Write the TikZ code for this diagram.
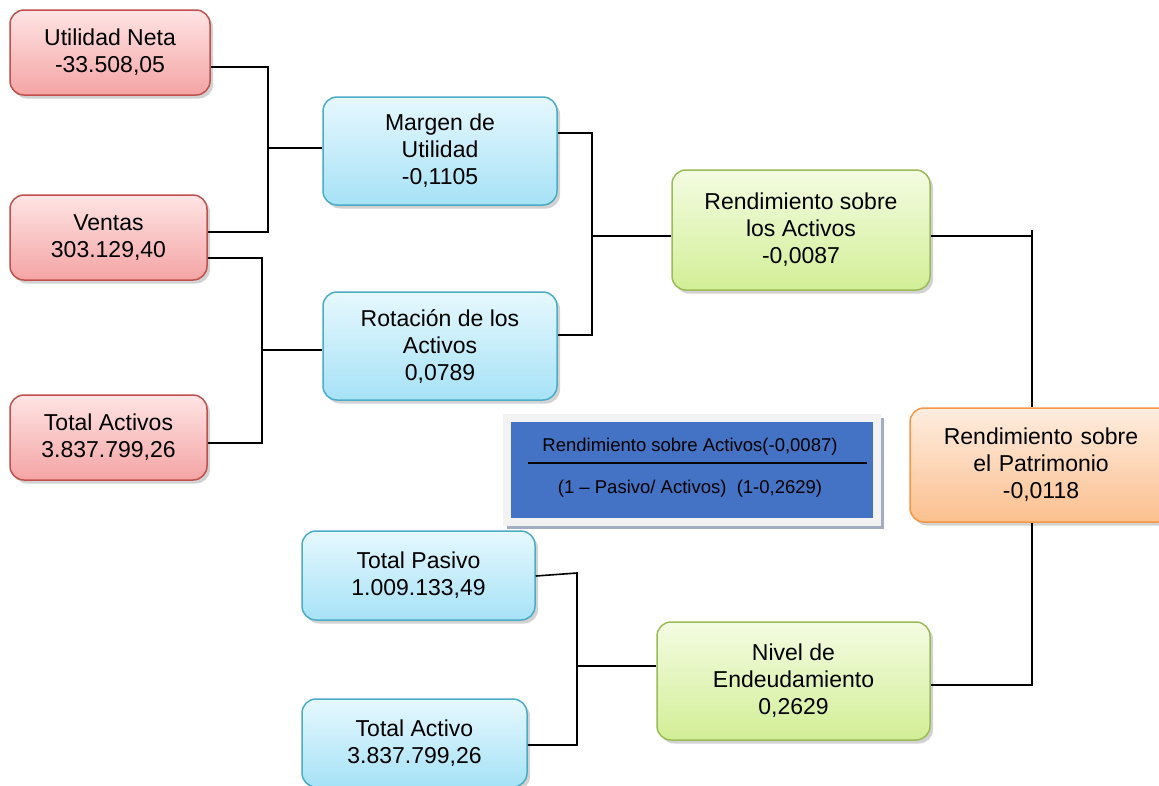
\documentclass[tikz,border=0pt]{standalone}
\usepackage{fontspec}
\setmainfont{Liberation Sans}
\usetikzlibrary{shadows}
\definecolor{redB}{HTML}{C0504D}
\definecolor{redT}{HTML}{FFE4E4}
\definecolor{redD}{HTML}{F4A4A4}
\definecolor{bluB}{HTML}{4BACC6}
\definecolor{bluT}{HTML}{E6F8FE}
\definecolor{bluD}{HTML}{A6E2F6}
\definecolor{grnB}{HTML}{9BBB59}
\definecolor{grnT}{HTML}{F4FCE2}
\definecolor{grnD}{HTML}{D2EE96}
\definecolor{orgB}{HTML}{F79646}
\definecolor{orgT}{HTML}{FEEDE0}
\definecolor{orgD}{HTML}{FBC08E}
\definecolor{fblue}{HTML}{4472C4}
\definecolor{fshad}{HTML}{A3ADC2}
\definecolor{fback}{HTML}{F2F2F2}
\tikzset{
  box/.style={rounded corners=14pt, line width=1.5pt, align=center,
    font=\fontsize{23}{27}\selectfont, inner sep=0pt,
    drop shadow={opacity=0.35, shadow xshift=3pt, shadow yshift=-3.5pt}},
  redbox/.style={box, draw=redB, top color=redT, bottom color=redD},
  blubox/.style={box, draw=bluB, top color=bluT, bottom color=bluD},
  grnbox/.style={box, draw=grnB, top color=grnT, bottom color=grnD},
  orgbox/.style={box, draw=orgB, top color=orgT, bottom color=orgD},
  conn/.style={line width=1.6pt, black},
  ftext/.style={font=\fontsize{18.5}{22}\selectfont, inner sep=0pt}
}
\begin{document}
\begin{tikzpicture}[x=1pt,y=-1pt]
\useasboundingbox (0,0) rectangle (1159,785);
\clip (0,0) rectangle (1159,785);
\fill[white] (0,0) rectangle (1159,785);

% nodes
\node[redbox, minimum width=200pt, minimum height=85pt] (un) at (110,52.5) {Utilidad Neta\\-33.508,05};
\node[redbox, minimum width=197pt, minimum height=85pt] (ve) at (108.5,237.5) {Ventas\\303.129,40};
\node[redbox, minimum width=197pt, minimum height=85pt] (ta) at (108.5,437.5) {Total Activos\\3.837.799,26};
\node[blubox, minimum width=234pt, minimum height=108pt] (mu) at (440,151) {Margen de\\Utilidad\\-0,1105};
\node[blubox, minimum width=234pt, minimum height=108pt] (ra) at (440,346) {Rotación de los\\Activos\\0,0789};
\node[grnbox, minimum width=258pt, minimum height=120pt] (rsa) at (801,230) {Rendimiento sobre\\los Activos\\-0,0087};
\node[orgbox, minimum width=262pt, minimum height=114pt, text width=250pt] (rsp) at (1041,465) {Rendimiento sobre\\el Patrimonio\\-0,0118};
\node[blubox, minimum width=233pt, minimum height=89pt] (tp) at (418.5,575.5) {Total Pasivo\\1.009.133,49};
\node[blubox, minimum width=225pt, minimum height=88pt] (tac) at (414.5,743) {Total Activo\\3.837.799,26};
\node[grnbox, minimum width=273pt, minimum height=118pt] (ne) at (793.5,681) {Nivel de\\Endeudamiento\\0,2629};

% formula box
\fill[fshad] (507,418) rectangle (884,529);
\fill[fback] (503,414) rectangle (880.5,526);
\fill[fblue] (511,422) rectangle (873,518);
\node[ftext, anchor=base] (fnum) at (690,451) {Rendimiento sobre Activos(-0,0087)};
\node[ftext, anchor=base] (fden) at (690,493) {(1 – Pasivo/ Activos)\ \ (1-0,2629)};
\coordinate (fl1) at (528,463);
\coordinate (fl2) at (867,463);
\draw[line width=2pt] (fl1) -- (fl2);

% connectors
\coordinate (j1) at (268,148);
\draw[conn] (un.east |- 0,67) -| (j1) |- (ve.east |- 0,232);
\draw[conn] (j1) -- (mu.west |- j1);
\coordinate (j2) at (262,350);
\draw[conn] (ve.east |- 0,258) -| (j2) |- (ta.east |- 0,443);
\draw[conn] (j2) -- (ra.west |- j2);
\coordinate (j3) at (592,236);
\draw[conn] (mu.east |- 0,133) -| (j3) |- (ra.east |- 0,335);
\draw[conn] (j3) -- (rsa.west |- j3);
\coordinate (j4) at (1032,236);
\draw[conn] (rsa.east |- j4) -- (j4);
\draw[conn] (1032,230) -- (rsp.north -| j4);
\draw[conn] (rsp.south -| j4) |- (ne.east |- 0,685);
\coordinate (j5) at (577,666);
\draw[conn] (tp.east |- 0,576) -- (577,573) -- (577,745) -- (tac.east |- 0,745);
\draw[conn] (j5) -- (ne.west |- j5);
\end{tikzpicture}
\end{document}
